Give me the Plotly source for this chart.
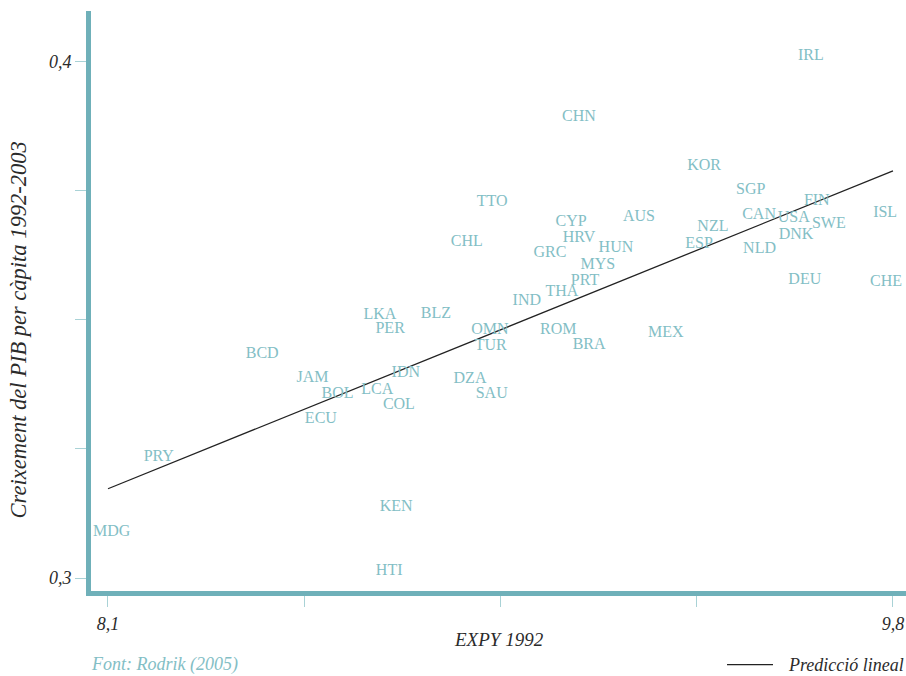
import plotly.graph_objects as go

# EXPY 1992 (x) vs. GDP per capita growth 1992-2003 (y), one label per country
countries = ["IRL", "CHN", "KOR", "SGP", "TTO", "FIN", "ISL", "AUS", "CYP", "CAN",
             "USA", "SWE", "NZL", "HRV", "DNK", "CHL", "HUN", "ESP", "NLD", "GRC",
             "MYS", "DEU", "CHE", "PRT", "THA", "IND", "LKA", "BLZ", "PER", "OMN",
             "ROM", "MEX", "TUR", "BRA", "BCD", "JAM", "IDN", "DZA", "BOL", "LCA",
             "SAU", "COL", "ECU", "PRY", "KEN", "MDG", "HTI"]
expy = [9.622, 9.120, 9.391, 9.492, 8.932, 9.635, 9.783, 9.250, 9.103, 9.510,
        9.585, 9.661, 9.410, 9.120, 9.590, 8.877, 9.200, 9.380, 9.511, 9.057,
        9.161, 9.609, 9.785, 9.133, 9.083, 9.007, 8.689, 8.810, 8.711, 8.927,
        9.075, 9.308, 8.929, 9.142, 8.434, 8.543, 8.745, 8.884, 8.597, 8.683,
        8.931, 8.730, 8.561, 8.210, 8.724, 8.108, 8.709]
growth = [0.4012, 0.3894, 0.3799, 0.3751, 0.3728, 0.3730, 0.3707, 0.3700, 0.3689, 0.3703,
          0.3697, 0.3686, 0.3680, 0.3658, 0.3664, 0.3652, 0.3639, 0.3647, 0.3638, 0.3629,
          0.3606, 0.3578, 0.3573, 0.3576, 0.3554, 0.3536, 0.3509, 0.3511, 0.3482, 0.3480,
          0.3481, 0.3474, 0.3449, 0.3452, 0.3434, 0.3387, 0.3397, 0.3385, 0.3356, 0.3365,
          0.3356, 0.3336, 0.3308, 0.3235, 0.3137, 0.3089, 0.3014]

# Linear prediction endpoints
fit_x = [8.1, 9.8]
fit_y = [0.3173, 0.3789]

# Axis ticks
x_tickvals = [8.1, 8.525, 8.95, 9.375, 9.8]
x_ticktext = ["8,1", "", "", "", "9,8"]
y_tickvals = [0.3, 0.325, 0.35, 0.375, 0.4]
y_ticktext = ["0,3", "", "", "", "0,4"]

TEAL = "#6fb0b9"
LABEL = "#83bec5"
TICK = "#a9d2d6"
DARK = "#2b2b2b"
SERIF = "Liberation Serif, DejaVu Serif, serif"

fig = go.Figure()

fig.add_trace(go.Scatter(
    x=fit_x, y=fit_y, mode="lines",
    line=dict(color="#222222", width=1.3),
    name="Predicció lineal", hoverinfo="skip", showlegend=False,
))

fig.add_trace(go.Scatter(
    x=expy, y=growth, mode="text", text=countries,
    textposition="middle center",
    textfont=dict(family=SERIF, size=16, color=LABEL),
    hoverinfo="skip", showlegend=False,
))

# Legend key for the fitted line, drawn beside the source note
legend_y = -0.127
fig.add_shape(type="line", xref="paper", yref="paper",
              x0=0.7804, x1=0.8368, y0=legend_y, y1=legend_y,
              line=dict(color="#222222", width=1.3))

fig.update_layout(
    width=906, height=676,
    margin=dict(l=91, r=0, t=11, b=85),
    paper_bgcolor="white", plot_bgcolor="white",
    separators=",.",
    font=dict(family=SERIF, color=DARK),
    showlegend=False,
    xaxis=dict(
        range=[8.0632, 9.8282], showgrid=False, zeroline=False,
        showline=True, linecolor=TEAL, linewidth=5,
        tickmode="array", tickvals=x_tickvals, ticktext=x_ticktext,
        ticks="outside", ticklen=11, tickwidth=1, tickcolor=TICK,
        ticklabelstandoff=1,
        tickfont=dict(family=SERIF, size=18, color=DARK, style="italic"),
    ),
    yaxis=dict(
        range=[0.29748, 0.40988], showgrid=False, zeroline=False,
        showline=True, linecolor=TEAL, linewidth=5,
        tickmode="array", tickvals=y_tickvals, ticktext=y_ticktext,
        ticks="outside", ticklen=11, tickwidth=1, tickcolor=TICK,
        tickfont=dict(family=SERIF, size=18, color=DARK, style="italic"),
    ),
    annotations=[
        dict(text="EXPY 1992", xref="paper", yref="paper", x=0.5, y=-0.083,
             xanchor="center", yanchor="middle", showarrow=False,
             font=dict(family=SERIF, size=19, color=DARK, style="italic")),
        dict(text="Creixement del PIB per càpita 1992-2003", xref="paper", yref="paper",
             x=-0.089, y=0.45, xanchor="center", yanchor="middle", textangle=-90,
             showarrow=False,
             font=dict(family=SERIF, size=22.5, color=DARK, style="italic")),
        dict(text="Font: Rodrik (2005)", xref="paper", yref="paper", x=-0.0025,
             y=legend_y, xanchor="left", yanchor="middle", showarrow=False,
             font=dict(family=SERIF, size=18, color=LABEL, style="italic")),
        dict(text="Predicció lineal", xref="paper", yref="paper", x=1.0,
             y=legend_y, xanchor="right", yanchor="middle", showarrow=False,
             font=dict(family=SERIF, size=18, color=DARK, style="italic")),
    ],
)

fig.write_html("out.html")
